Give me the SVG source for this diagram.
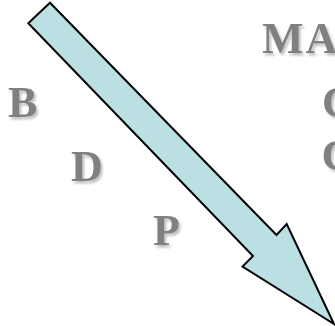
<svg xmlns="http://www.w3.org/2000/svg" width="335" height="326" viewBox="0 0 335 326">
<style>
.t{font-family:"Liberation Serif","Times New Roman",serif;font-weight:bold;font-size:44px;fill:#808080;filter:url(#sh)}
</style>
<defs>
<filter id="sh" x="-20%" y="-20%" width="150%" height="150%">
<feDropShadow dx="2" dy="2.5" stdDeviation="1.2" flood-color="#000" flood-opacity="0.25"/>
</filter>
</defs>
<rect width="335" height="326" fill="#fff"/>
<g id="connectors">
<path d="M50,2.7 L276.5,235 L286.7,224 L334,324 L242.5,266.5 L253,256 L28.3,23.3 Z" fill="#BBE0E3" stroke="#000" stroke-width="2" stroke-linejoin="miter"/>
</g>
<g id="B"><text class="t" x="8" y="116.5">B</text></g>
<g id="D"><text class="t" x="71" y="181">D</text></g>
<g id="P"><text class="t" x="153" y="245">P</text></g>
<g id="MA"><text class="t" x="262" y="53" letter-spacing="2">MA</text></g>
<g id="C1"><text class="t" x="322" y="116.5">C</text></g>
<g id="C2"><text class="t" x="321.5" y="170">C</text></g>
</svg>
